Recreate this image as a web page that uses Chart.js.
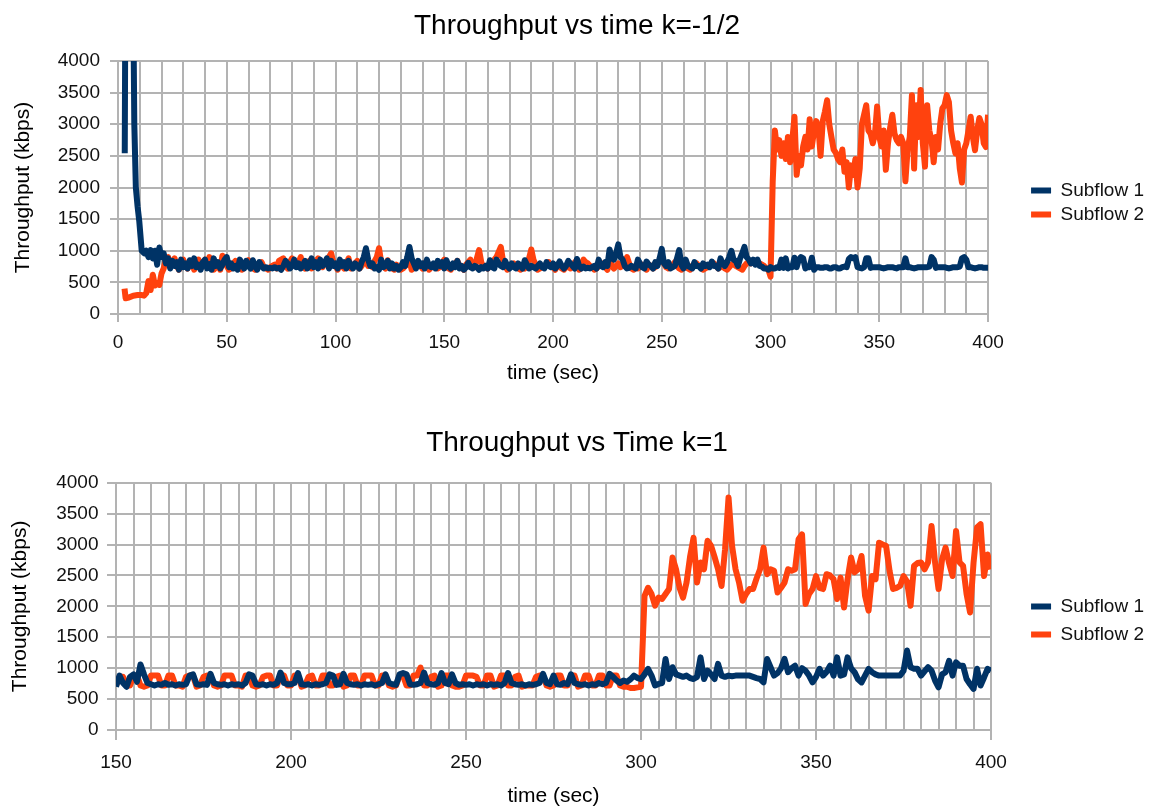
<!DOCTYPE html>
<html>
<head>
<meta charset="utf-8">
<script src="https://cdn.jsdelivr.net/npm/chart.js@4.4.0/dist/chart.umd.min.js"></script>
<style>
  body { margin: 0; background: #fff; }
  canvas { display: block; }
</style>
</head>
<body>
<canvas id="top" width="1154" height="405"></canvas>
<canvas id="bottom" width="1154" height="405"></canvas>
<script>
const seriesNames = ['Subflow 1', 'Subflow 2']
const seriesColors = ['#003366', '#ff420e']

// chart 1 (k=-1/2): start-up phase, irregular sampling
const topEarlyTime1 = [3.1, 3.3, 5, 7.2, 7.5, 8.2, 9, 9.8, 10.9, 12, 13, 14, 15, 16, 17, 18, 19, 20]
const topEarlyFlow1 = [2540, 4300, 4800, 4200, 3000, 2000, 1700, 1460, 1000, 960, 1000, 900, 1010, 880, 1000, 780, 1050, 900]
const topEarlyTime2 = [3, 3.5, 5, 7, 9, 11, 12, 13, 14, 15, 16, 17, 18, 19, 20]
const topEarlyFlow2 = [400, 250, 260, 290, 300, 300, 290, 330, 520, 380, 620, 450, 480, 460, 640]

// chart 1: one sample per second from 21 s to 400 s
const topSeconds = [
  21, 22, 23, 24, 25, 26, 27, 28, 29, 30, 31, 32, 33, 34, 35, 36, 37, 38, 39, 40,
  41, 42, 43, 44, 45, 46, 47, 48, 49, 50, 51, 52, 53, 54, 55, 56, 57, 58, 59, 60,
  61, 62, 63, 64, 65, 66, 67, 68, 69, 70, 71, 72, 73, 74, 75, 76, 77, 78, 79, 80,
  81, 82, 83, 84, 85, 86, 87, 88, 89, 90, 91, 92, 93, 94, 95, 96, 97, 98, 99, 100,
  101, 102, 103, 104, 105, 106, 107, 108, 109, 110, 111, 112, 113, 114, 115, 116, 117, 118, 119, 120,
  121, 122, 123, 124, 125, 126, 127, 128, 129, 130, 131, 132, 133, 134, 135, 136, 137, 138, 139, 140,
  141, 142, 143, 144, 145, 146, 147, 148, 149, 150, 151, 152, 153, 154, 155, 156, 157, 158, 159, 160,
  161, 162, 163, 164, 165, 166, 167, 168, 169, 170, 171, 172, 173, 174, 175, 176, 177, 178, 179, 180,
  181, 182, 183, 184, 185, 186, 187, 188, 189, 190, 191, 192, 193, 194, 195, 196, 197, 198, 199, 200,
  201, 202, 203, 204, 205, 206, 207, 208, 209, 210, 211, 212, 213, 214, 215, 216, 217, 218, 219, 220,
  221, 222, 223, 224, 225, 226, 227, 228, 229, 230, 231, 232, 233, 234, 235, 236, 237, 238, 239, 240,
  241, 242, 243, 244, 245, 246, 247, 248, 249, 250, 251, 252, 253, 254, 255, 256, 257, 258, 259, 260,
  261, 262, 263, 264, 265, 266, 267, 268, 269, 270, 271, 272, 273, 274, 275, 276, 277, 278, 279, 280,
  281, 282, 283, 284, 285, 286, 287, 288, 289, 290, 291, 292, 293, 294, 295, 296, 297, 298, 299, 300,
  301, 302, 303, 304, 305, 306, 307, 308, 309, 310, 311, 312, 313, 314, 315, 316, 317, 318, 319, 320,
  321, 322, 323, 324, 325, 326, 327, 328, 329, 330, 331, 332, 333, 334, 335, 336, 337, 338, 339, 340,
  341, 342, 343, 344, 345, 346, 347, 348, 349, 350, 351, 352, 353, 354, 355, 356, 357, 358, 359, 360,
  361, 362, 363, 364, 365, 366, 367, 368, 369, 370, 371, 372, 373, 374, 375, 376, 377, 378, 379, 380,
  381, 382, 383, 384, 385, 386, 387, 388, 389, 390, 391, 392, 393, 394, 395, 396, 397, 398, 399, 400]
const topFlow1 = [
  960, 800, 880, 720, 840, 760, 820, 700, 860, 740, 800, 720, 850, 760, 880, 740, 780, 700, 820, 860,
  720, 790, 700, 880, 760, 820, 720, 780, 860, 900, 740, 800, 720, 760, 700, 860, 800, 720, 840, 760,
  720, 850, 760, 700, 820, 760, 720, 740, 720, 730, 720, 740, 720, 730, 700, 760, 840, 800, 720, 760,
  860, 740, 800, 720, 780, 840, 720, 760, 880, 740, 820, 720, 860, 760, 800, 880, 720, 840, 760, 800,
  720, 860, 760, 820, 720, 840, 780, 720, 800, 760, 720, 820, 900, 1040, 860, 760, 800, 720, 740, 700,
  860, 740, 760, 840, 720, 800, 720, 760, 700, 740, 820, 760, 900, 1060, 880, 800, 720, 840, 760, 800,
  720, 860, 760, 740, 800, 720, 840, 760, 820, 720, 850, 760, 720, 800, 740, 840, 720, 760, 700, 740,
  810, 740, 720, 760, 740, 700, 740, 720, 760, 720, 850, 740, 720, 860, 800, 760, 740, 840, 760, 720,
  800, 740, 720, 800, 760, 720, 850, 780, 720, 760, 740, 720, 760, 800, 740, 720, 820, 760, 740, 800,
  720, 760, 830, 760, 720, 760, 840, 800, 760, 720, 870, 760, 720, 750, 720, 730, 720, 740, 760, 720,
  860, 760, 740, 820, 760, 1020, 880, 860, 960, 1100, 900, 860, 760, 720, 730, 760, 740, 720, 860, 800,
  740, 720, 830, 780, 760, 720, 820, 760, 880, 1030, 800, 760, 820, 720, 740, 760, 880, 1010, 780, 720,
  860, 760, 740, 720, 820, 760, 760, 720, 800, 760, 780, 740, 830, 760, 760, 720, 880, 800, 760, 820,
  900, 1000, 860, 840, 760, 880, 960, 1060, 900, 860, 800, 860, 780, 860, 760, 750, 720, 720, 700, 740,
  720, 720, 740, 730, 860, 730, 880, 720, 740, 740, 890, 740, 860, 900, 880, 720, 740, 740, 890, 700,
  740, 740, 730, 730, 740, 740, 720, 720, 740, 740, 720, 720, 740, 750, 740, 870, 900, 880, 900, 740,
  730, 720, 740, 880, 880, 730, 740, 740, 740, 740, 730, 720, 730, 740, 740, 740, 730, 720, 740, 740,
  740, 880, 740, 740, 730, 720, 730, 740, 740, 740, 740, 740, 750, 900, 860, 730, 740, 740, 740, 740,
  730, 720, 730, 740, 740, 740, 750, 880, 900, 860, 740, 740, 730, 720, 730, 740, 740, 730, 730, 730]
const topFlow2 = [
  720, 870, 900, 760, 820, 880, 760, 700, 780, 860, 760, 720, 800, 820, 700, 780, 860, 720, 800, 860,
  760, 900, 820, 700, 740, 780, 700, 920, 880, 760, 700, 720, 800, 840, 720, 760, 700, 740, 780, 850,
  760, 720, 700, 760, 800, 820, 740, 720, 700, 740, 760, 780, 720, 840, 860, 880, 760, 720, 820, 880,
  760, 760, 820, 900, 760, 720, 800, 840, 720, 760, 820, 880, 760, 740, 800, 860, 900, 960, 820, 760,
  700, 820, 760, 720, 800, 880, 720, 760, 800, 840, 720, 760, 820, 860, 760, 800, 740, 840, 900, 1040,
  820, 760, 720, 850, 760, 720, 700, 780, 740, 700, 720, 760, 800, 840, 700, 740, 760, 800, 760, 720,
  800, 840, 700, 740, 760, 780, 720, 740, 800, 860, 760, 720, 700, 760, 800, 840, 760, 740, 700, 780,
  820, 860, 760, 740, 880, 1010, 820, 740, 760, 720, 780, 820, 860, 900, 980, 1060, 840, 760, 700, 740,
  760, 800, 760, 720, 700, 760, 720, 780, 880, 1020, 860, 780, 700, 720, 740, 760, 780, 820, 760, 740,
  700, 780, 760, 720, 700, 760, 740, 720, 760, 820, 760, 700, 780, 860, 820, 800, 760, 740, 700, 720,
  760, 780, 800, 740, 700, 880, 760, 720, 760, 800, 740, 760, 820, 900, 800, 720, 700, 760, 720, 740,
  780, 760, 700, 780, 760, 720, 740, 800, 840, 880, 800, 740, 720, 760, 780, 820, 760, 720, 700, 780,
  760, 720, 700, 760, 780, 800, 760, 740, 700, 720, 740, 760, 780, 800, 760, 720, 740, 760, 720, 700,
  740, 780, 800, 760, 740, 720, 700, 760, 800, 820, 800, 840, 820, 820, 800, 780, 760, 720, 700, 590,
  2100, 2900, 2600, 2750, 2500, 2700, 2450, 2800, 2400, 2750, 3120, 2200, 2500, 2350, 2650, 2800, 2600, 3080, 2650, 2900,
  3050, 2950, 2500, 3050, 3200, 3380, 3000, 2800, 2600, 2550, 2450, 2400, 2600, 2250, 2400, 2000, 2350, 2200, 2450, 2000,
  2300, 3000, 3150, 3300, 2900, 2850, 2700, 2850, 3280, 2800, 2650, 2900, 2280, 2700, 2950, 3150, 2850, 2750, 2700, 2800,
  2700, 2100, 2600, 2800, 3460, 2300, 3300, 2800, 3540, 2700, 2330, 3300, 2900, 2750, 2400, 2800, 2600, 3000, 3250, 3300,
  3460, 3350, 2900, 2700, 2540, 2700, 2300, 2080, 2600, 2700, 2900, 3120, 2800, 2590, 2900, 3100, 3000, 2700, 2640, 3150]

// chart 2 (k=1): one sample per second from 150 s to 400 s
const botSeconds = [
  150, 151, 152, 153, 154, 155, 156, 157, 158, 159, 160, 161, 162, 163, 164, 165, 166, 167, 168, 169,
  170, 171, 172, 173, 174, 175, 176, 177, 178, 179, 180, 181, 182, 183, 184, 185, 186, 187, 188, 189,
  190, 191, 192, 193, 194, 195, 196, 197, 198, 199, 200, 201, 202, 203, 204, 205, 206, 207, 208, 209,
  210, 211, 212, 213, 214, 215, 216, 217, 218, 219, 220, 221, 222, 223, 224, 225, 226, 227, 228, 229,
  230, 231, 232, 233, 234, 235, 236, 237, 238, 239, 240, 241, 242, 243, 244, 245, 246, 247, 248, 249,
  250, 251, 252, 253, 254, 255, 256, 257, 258, 259, 260, 261, 262, 263, 264, 265, 266, 267, 268, 269,
  270, 271, 272, 273, 274, 275, 276, 277, 278, 279, 280, 281, 282, 283, 284, 285, 286, 287, 288, 289,
  290, 291, 292, 293, 294, 295, 296, 297, 298, 299, 300, 301, 302, 303, 304, 305, 306, 307, 308, 309,
  310, 311, 312, 313, 314, 315, 316, 317, 318, 319, 320, 321, 322, 323, 324, 325, 326, 327, 328, 329,
  330, 331, 332, 333, 334, 335, 336, 337, 338, 339, 340, 341, 342, 343, 344, 345, 346, 347, 348, 349,
  350, 351, 352, 353, 354, 355, 356, 357, 358, 359, 360, 361, 362, 363, 364, 365, 366, 367, 368, 369,
  370, 371, 372, 373, 374, 375, 376, 377, 378, 379, 380, 381, 382, 383, 384, 385, 386, 387, 388, 389,
  390, 391, 392, 393, 394, 395, 396, 397, 398, 399, 400]
const botFlow1 = [
  700, 880, 760, 700, 860, 900, 780, 1060, 900, 760, 740, 720, 740, 730, 760, 730, 740, 720, 740, 730,
  740, 880, 900, 740, 730, 740, 730, 910, 760, 740, 730, 740, 720, 740, 730, 740, 720, 760, 900, 880,
  740, 730, 740, 720, 740, 730, 760, 930, 760, 740, 740, 760, 920, 740, 730, 740, 720, 740, 730, 740,
  760, 900, 880, 730, 740, 910, 760, 740, 730, 740, 720, 740, 730, 740, 720, 740, 760, 900, 760, 740,
  730, 900, 920, 900, 740, 730, 740, 760, 930, 760, 740, 730, 760, 920, 760, 740, 900, 760, 730, 740,
  730, 740, 720, 740, 730, 740, 720, 740, 730, 740, 720, 760, 920, 760, 740, 730, 740, 720, 740, 730,
  740, 760, 910, 760, 740, 880, 740, 730, 760, 740, 900, 760, 740, 730, 740, 720, 740, 730, 760, 740,
  760, 910, 860, 800, 760, 800, 780, 820, 880, 840, 825, 900, 990, 880, 720, 745, 760, 1150, 825, 1015,
  900, 880, 860, 880, 840, 825, 860, 1175, 825, 960, 900, 825, 1070, 880, 860, 880, 870, 880, 880, 880,
  880, 880, 860, 840, 825, 770, 1150, 1015, 880, 920, 1000, 1150, 935, 1000, 1040, 880, 1000, 960, 880, 770,
  860, 990, 880, 940, 1040, 880, 1175, 880, 900, 1175, 1000, 935, 820, 770, 880, 990, 935, 900, 880, 880,
  880, 880, 880, 880, 880, 960, 1285, 1015, 990, 990, 880, 950, 1015, 960, 800, 690, 900, 935, 1120, 880,
  1095, 1040, 1040, 825, 740, 665, 990, 720, 850, 990, 960]
const botFlow2 = [
  720, 860, 860, 720, 720, 880, 880, 720, 700, 720, 880, 880, 880, 720, 720, 880, 880, 720, 720, 700,
  860, 880, 880, 700, 720, 860, 880, 880, 720, 700, 720, 880, 880, 880, 720, 720, 700, 880, 880, 720,
  700, 720, 860, 880, 880, 720, 720, 900, 880, 720, 720, 880, 880, 700, 720, 860, 880, 720, 720, 880,
  880, 720, 720, 860, 880, 700, 720, 880, 880, 720, 720, 880, 880, 880, 720, 720, 880, 880, 720, 700,
  720, 880, 880, 720, 720, 880, 880, 1010, 720, 720, 860, 880, 700, 720, 880, 880, 720, 700, 700, 720,
  880, 880, 880, 860, 720, 720, 880, 880, 700, 720, 880, 880, 720, 720, 860, 880, 700, 720, 720, 720,
  860, 880, 880, 720, 700, 720, 880, 880, 720, 720, 880, 880, 700, 720, 880, 880, 720, 720, 880, 880,
  720, 720, 880, 880, 720, 700, 700, 680, 680, 690, 700, 2170, 2300, 2200, 2010, 2140, 2120, 2200, 2280, 2790,
  2600, 2300, 2140, 2385, 2800, 3110, 2385, 2710, 2600, 3060, 2980, 2800, 2600, 2330, 2920, 3760, 2980, 2600, 2385, 2090,
  2200, 2280, 2280, 2450, 2600, 2950, 2520, 2600, 2575, 2225, 2300, 2385, 2600, 2575, 2600, 3085, 3165, 2040, 2200, 2280,
  2490, 2300, 2280, 2520, 2500, 2440, 2120, 2465, 1980, 2440, 2790, 2550, 2600, 2815, 2170, 1930, 2490, 2440, 3030, 3000,
  2980, 2575, 2280, 2300, 2330, 2490, 2400, 2010, 2655, 2700, 2710, 2600, 2710, 3300, 2710, 2280, 2760, 2950, 2700, 2490,
  3220, 2710, 2655, 2200, 1900, 2710, 3275, 3330, 2490, 2840, 2600]

Chart.defaults.font.family = '"Liberation Sans", Arial, sans-serif'
Chart.defaults.color = '#111'

function points(times, vals) {
  return times.map((t, i) => ({ x: t, y: vals[i] }))
}

function makeChart(id, cfg) {
  const grid = '#b3b3b3'
  return new Chart(document.getElementById(id), {
    type: 'line',
    data: {
      datasets: cfg.series.map((s, i) => ({
        label: seriesNames[i],
        data: s,
        borderColor: seriesColors[i],
        backgroundColor: seriesColors[i],
        borderWidth: 6,
        pointRadius: 0,
        tension: 0,
        borderJoinStyle: 'round',
        clip: 0
      }))
    },
    options: {
      responsive: false,
      animation: false,
      layout: { padding: { left: 0, right: 0, top: 0, bottom: 0 } },
      plugins: {
        title: {
          display: true,
          text: cfg.title,
          color: '#000',
          font: { size: 28, weight: 'normal' },
          padding: { top: cfg.titleTop, bottom: cfg.titleBottom }
        },
        legend: {
          position: 'right',
          title: { display: cfg.legendShift > 0, text: ' ', font: { size: 10 }, padding: cfg.legendShift },
          labels: {
            boxWidth: 20,
            boxHeight: 6,
            padding: cfg.legendPad,
            color: '#111',
            font: { size: 19 },
            generateLabels: function (chart) {
              const items = Chart.defaults.plugins.legend.labels.generateLabels(chart)
              items.forEach(it => { it.lineWidth = 0; it.strokeStyle = 'transparent' })
              return items
            }
          }
        },
        tooltip: { enabled: false }
      },
      scales: {
        x: {
          type: 'linear',
          min: cfg.xMin,
          max: cfg.xMax,
          afterFit: s => { s.height = cfg.xHeight },
          ticks: {
            stepSize: cfg.xStep,
            autoSkip: false,
            maxRotation: 0,
            padding: cfg.xTickPad,
            font: { size: 19 },
            callback: v => v % 50 === 0 ? v : ''
          },
          grid: {
            color: grid,
            lineWidth: 2,
            tickLength: cfg.xTickLen,
            tickColor: c => c.tick && c.tick.value % 50 === 0 ? grid : 'transparent'
          },
          border: { color: grid, width: 2 },
          title: {
            display: true,
            text: 'time (sec)',
            color: '#000',
            font: { size: 21 },
            padding: { top: 0, bottom: cfg.xTitlePad }
          }
        },
        y: {
          min: 0,
          max: 4000,
          afterFit: s => { s.width = cfg.yWidth },
          ticks: {
            stepSize: cfg.yStep,
            padding: cfg.yTickPad,
            font: { size: 19 },
            callback: v => v % 500 === 0 ? v : ''
          },
          grid: {
            color: grid,
            lineWidth: 2,
            tickLength: cfg.yTickLen,
            tickColor: c => c.tick && c.tick.value % 500 === 0 ? grid : 'transparent'
          },
          border: { color: grid, width: 2 },
          title: {
            display: true,
            text: 'Throughput (kbps)',
            color: '#000',
            font: { size: 21 },
            padding: { top: cfg.yTitlePad, bottom: 0 }
          }
        },
        // empty spacer between the plot and the legend
        gap: {
          type: 'linear',
          position: 'right',
          afterFit: s => { s.width = cfg.gap },
          ticks: { display: false },
          grid: { display: false },
          border: { display: false }
        }
      }
    }
  })
}

makeChart('top', {
  title: 'Throughput vs time k=-1/2',
  series: [
    points(topEarlyTime1, topEarlyFlow1).concat(points(topSeconds, topFlow1)),
    points(topEarlyTime2, topEarlyFlow2).concat(points(topSeconds, topFlow2))
  ],
  xMin: 0, xMax: 400, xStep: 10, yStep: 250,
  titleTop: 9, titleBottom: 18.4,
  xHeight: 91, xTickLen: 8, xTickPad: 9, xTitlePad: 19.4,
  yWidth: 118, yTickLen: 8, yTickPad: 10, yTitlePad: 10.4,
  gap: 38, legendPad: 5, legendShift: 0
})

makeChart('bottom', {
  title: 'Throughput vs Time k=1',
  series: [points(botSeconds, botFlow1), points(botSeconds, botFlow2)],
  xMin: 150, xMax: 400, xStep: 5, yStep: 500,
  titleTop: 21.2, titleBottom: 22.9,
  xHeight: 80, xTickLen: 10, xTickPad: 11, xTitlePad: 1.4,
  yWidth: 116, yTickLen: 9, yTickPad: 8.5, yTitlePad: 7.4,
  gap: 31, legendPad: 9, legendShift: 7
})
</script>
</body>
</html>
